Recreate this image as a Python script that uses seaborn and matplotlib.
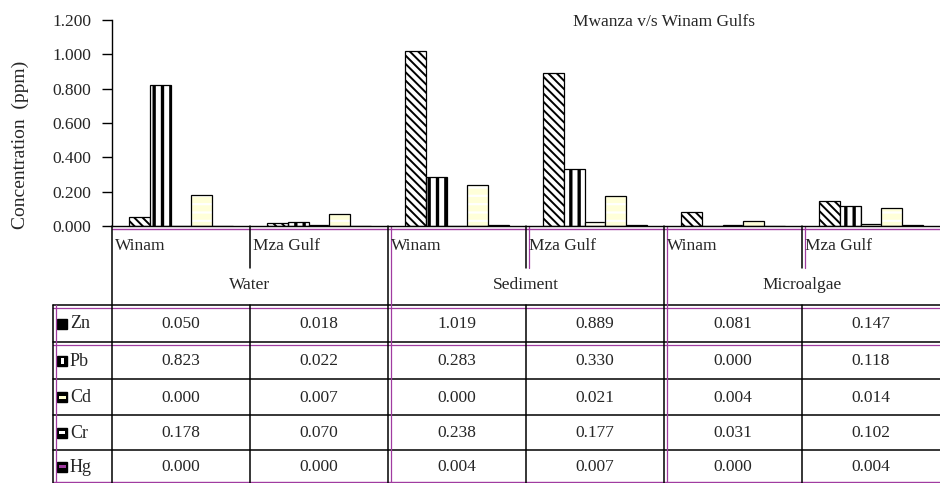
import numpy as np
import pandas as pd
import matplotlib
matplotlib.use('Agg')
import matplotlib.pyplot as plt
import seaborn as sns
from matplotlib.patches import Rectangle

# data: columns are Water Winam, Water Mza Gulf, Sediment Winam, Sediment Mza Gulf,
# Microalgae Winam, Microalgae Mza Gulf
matrices = ['Water', 'Sediment', 'Microalgae']
sites = ['Winam', 'Mza Gulf']
metals = ['Zn', 'Pb', 'Cd', 'Cr', 'Hg']

zn = [0.050, 0.018, 1.019, 0.889, 0.081, 0.147]
pb = [0.823, 0.022, 0.283, 0.330, 0.000, 0.118]
cd = [0.000, 0.007, 0.000, 0.021, 0.004, 0.014]
cr = [0.178, 0.070, 0.238, 0.177, 0.031, 0.102]
hg = [0.000, 0.000, 0.004, 0.007, 0.000, 0.004]
values = {'Zn': zn, 'Pb': pb, 'Cd': cd, 'Cr': cr, 'Hg': hg}

yticks = [0.0, 0.2, 0.4, 0.6, 0.8, 1.0, 1.2]

cols = [m + ' ' + s for m in matrices for s in sites]
rows = []
for metal in metals:
    for c, v in zip(cols, values[metal]):
        rows.append({'col': c, 'metal': metal, 'value': v})
df = pd.DataFrame(rows)

colors = {'Zn': '#ffffff', 'Pb': '#ffffff', 'Cd': '#fffff0', 'Cr': '#ffffd9', 'Hg': '#800080'}
purple = '#a03ca0'

sns.set_style('white')
plt.rcParams['font.family'] = ['Liberation Serif', 'DejaVu Serif']
plt.rcParams['hatch.linewidth'] = 1.3

W_PX, H_PX = 940, 483
fig = plt.figure(figsize=(9.4, 4.83), dpi=100)

# pixel layout
L, R = 112, 940
top, base = 20, 226
colw = (R - L) / 6

# table / frame axes in pixel coordinates
tab = fig.add_axes([0, 0, 1, 1])
tab.set_xlim(0, W_PX)
tab.set_ylim(H_PX, 0)
tab.axis('off')

ax = fig.add_axes([L / W_PX, 1 - base / H_PX, (R - L) / W_PX, (base - top) / H_PX])
ax.patch.set_alpha(0)

sns.barplot(data=df, x='col', y='value', hue='metal', order=cols, hue_order=metals,
            palette=colors, saturation=1, width=0.76, edgecolor='black', linewidth=0.9,
            errorbar=None, legend=False, ax=ax)

hatches = {'Zn': ('\\\\\\\\', 1.4), 'Pb': ('||', 2.4), 'Cd': ('', 1.0), 'Cr': ('--', 1.6), 'Hg': ('', 1.0)}
for metal, cont in zip(metals, ax.containers):
    h, lw = hatches[metal]
    for bar in cont:
        if h:
            bar.set_hatch(h)
            if hasattr(bar, 'set_hatch_linewidth'):
                bar.set_hatch_linewidth(lw)
        if metal == 'Cr':
            bar.set_edgecolor('white')
            ax.add_patch(Rectangle((bar.get_x(), 0), bar.get_width(), bar.get_height(),
                                   fill=False, edgecolor='black', linewidth=0.9, zorder=3))

ax.set_xlim(-0.5, 5.5)
ax.set_ylim(0, 1.2)
ax.set_yticks(yticks)
ax.set_yticklabels([f'{t:.3f}' for t in yticks], fontsize=12.5)
ax.set_xticks([])
ax.set_xlabel('')
ax.set_ylabel('')
ax.tick_params(axis='y', direction='out', length=7, width=1, pad=8, color='black', left=True)
for s in ['top', 'right']:
    ax.spines[s].set_visible(False)
ax.spines['left'].set_color('black')
ax.spines['bottom'].set_color('black')
ax.spines['left'].set_linewidth(1)
ax.spines['bottom'].set_linewidth(1)

fig.text(20 / W_PX, 1 - 145 / H_PX, 'Concentration  (ppm)', rotation=90,
         ha='center', va='center', fontsize=14)
fig.text(664 / W_PX, 1 - 22 / H_PX, 'Mwanza v/s Winam Gulfs', ha='center', va='center',
         fontsize=12.5)

# ---- data table below the chart ----
edges = [L + colw * i for i in range(7)]
row_y = [305, 342, 379, 415, 450, 483]
key_l = 53

tab.plot([L, R], [base + 2.5, base + 2.5], color=purple, lw=1)

for i, c in enumerate(cols):
    tab.text(edges[i] + 3, 246, sites[i % 2], ha='left', va='center', fontsize=12.5)
for g, m in enumerate(matrices):
    tab.text((edges[2 * g] + edges[2 * g + 2]) / 2, 285, m, ha='center', va='center', fontsize=12.5)

# horizontal rules
for k, y in enumerate(row_y[:-1]):
    tab.plot([key_l, R], [y, y], color='black', lw=1.1)
    if k < 2:
        tab.plot([key_l, R], [y + 3, y + 3], color=purple, lw=0.9)
tab.plot([key_l, R], [H_PX - 1.5, H_PX - 1.5], color=purple, lw=1)

# vertical rules
tab.plot([key_l, key_l], [row_y[0], H_PX], color='black', lw=1.1)
tab.plot([key_l + 3, key_l + 3], [row_y[0], H_PX], color=purple, lw=0.9)
tab.plot([L, L], [base, H_PX], color='black', lw=1.1)
for g in range(1, 3):
    x = edges[2 * g]
    tab.plot([x, x], [base, H_PX], color='black', lw=1.1)
    tab.plot([x + 2.5, x + 2.5], [base, H_PX], color=purple, lw=0.9)
for g in range(3):
    x = edges[2 * g + 1]
    tab.plot([x, x], [base, 268], color='black', lw=1.1)
    tab.plot([x, x], [row_y[0], H_PX], color='black', lw=1.1)
    if g > 0:
        tab.plot([x + 2.5, x + 2.5], [base, 268], color=purple, lw=0.9)

# legend keys and values
inner = {'Zn': None, 'Pb': ('white', 3, 6), 'Cd': ('#ffffd0', 7, 3),
         'Cr': ('white', 6, 2.5), 'Hg': (purple, 7, 3)}
for r, metal in enumerate(metals):
    yc = (row_y[r] + row_y[r + 1]) / 2
    tab.add_patch(Rectangle((57, yc - 5), 10, 10, facecolor='black', edgecolor='black'))
    if inner[metal]:
        fc, w, h = inner[metal]
        tab.add_patch(Rectangle((62 - w / 2, yc - h / 2), w, h, facecolor=fc, edgecolor='none'))
    tab.text(70, yc + 0.5, metal, ha='left', va='center', fontsize=13)
    for i, v in enumerate(values[metal]):
        tab.text((edges[i] + edges[i + 1]) / 2, yc + 0.5, f'{v:.3f}', ha='center', va='center',
                 fontsize=12.5)

fig.savefig('out.png', dpi=100)
